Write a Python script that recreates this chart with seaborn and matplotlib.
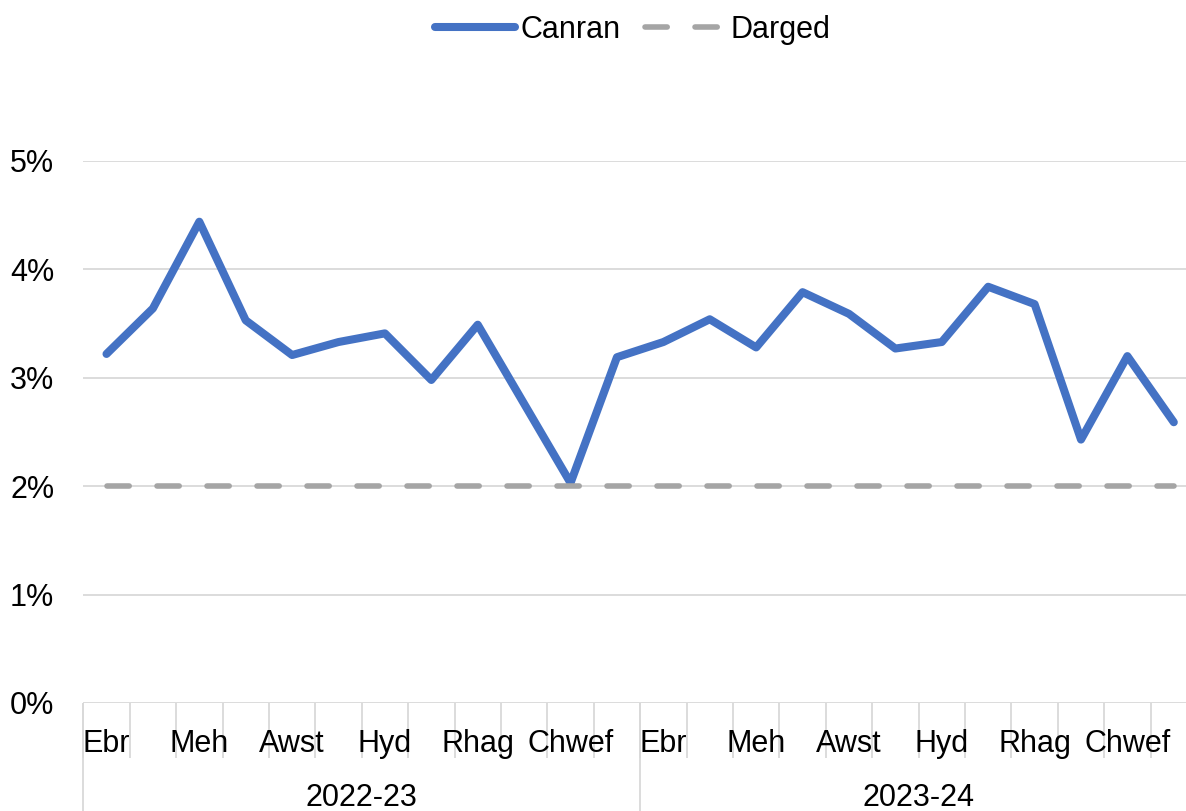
import numpy as np
import pandas as pd
import matplotlib
matplotlib.use("Agg")
import matplotlib.pyplot as plt
import seaborn as sns
from matplotlib.ticker import PercentFormatter
from matplotlib.transforms import blended_transform_factory

# ---- data ----
months = ["Ebr", "Mai", "Meh", "Gorff", "Awst", "Medi",
          "Hyd", "Tach", "Rhag", "Ion", "Chwef", "Maw"]
years = ["2022-23", "2023-24"]
canran = [3.22, 3.64, 4.44, 3.53, 3.21, 3.33, 3.41, 2.98, 3.49, 2.76, 2.03, 3.19,
          3.33, 3.54, 3.28, 3.79, 3.59, 3.27, 3.33, 3.84, 3.68, 2.43, 3.20, 2.59]
darged = [2.0, 2.0, 2.0, 2.0, 2.0, 2.0, 2.0, 2.0, 2.0, 2.0, 2.0, 2.0,
          2.0, 2.0, 2.0, 2.0, 2.0, 2.0, 2.0, 2.0, 2.0, 2.0, 2.0, 2.0]
yticks = [0, 1, 2, 3, 4, 5]

BLUE = "#4472C4"
GREY = "#A5A5A5"
GRID = "#D9D9D9"
FS = 22

sns.set_style("white")
plt.rcParams["font.family"] = ["Liberation Sans", "DejaVu Sans"]
plt.rcParams["text.color"] = "black"

n = len(canran)
df = pd.DataFrame({
    "idx": np.arange(n),
    "month": [m for _ in years for m in months],
    "year": [y for y in years for _ in months],
    "Canran": canran,
    "Darged": darged,
})

fig = plt.figure(figsize=(11.86, 8.11), dpi=100)
W, H = 1186, 811
ax_left, ax_right, ax_top, ax_bottom = 83.3, 1197.0, 161.0, 703.0
ax = fig.add_axes([ax_left / W, 1 - ax_bottom / H,
                   (ax_right - ax_left) / W, (ax_bottom - ax_top) / H])

sns.lineplot(data=df, x="idx", y="Canran", ax=ax, color=BLUE, linewidth=5.8,
             label="Canran", solid_capstyle="round", solid_joinstyle="round")
sns.lineplot(data=df, x="idx", y="Darged", ax=ax, color=GREY, linewidth=4.0,
             label="Darged", linestyle=(0, (4.0, 5.0)), dash_capstyle="round")

ax.set_xlim(-0.5, n - 0.5)
ax.set_ylim(0, 5)
ax.set_yticks(yticks)
ax.yaxis.set_major_formatter(PercentFormatter(xmax=100, decimals=0))
ax.tick_params(axis="y", length=0, pad=21, labelsize=FS, labelcolor="black")
ax.yaxis.grid(True, color=GRID, linewidth=1.3)
ax.set_axisbelow(True)
for s in ax.spines.values():
    s.set_visible(False)
ax.set_xticks([])
ax.set_xlabel("")
ax.set_ylabel("")

# multi-level category axis
trans = blended_transform_factory(ax.transData, ax.transAxes)
ah = ax_bottom - ax_top
bounds = np.arange(-0.5, n, 1.0)
ax.vlines(bounds, -55.0 / ah, 0, transform=trans, colors=GRID, linewidth=1.3,
          clip_on=False)
ax.vlines([-0.5, len(months) - 0.5, n - 0.5], -(H - ax_bottom) / ah, 0,
          transform=trans, colors=GRID, linewidth=1.3, clip_on=False)
for i, row in df.iterrows():
    if i % 2 == 0:
        ax.text(row["idx"], -(752 - ax_bottom) / ah, row["month"], transform=trans,
                ha="center", va="baseline", fontsize=FS, color="black")
for k, y in enumerate(years):
    xc = k * len(months) + (len(months) - 1) / 2
    ax.text(xc, -(806 - ax_bottom) / ah, y, transform=trans,
            ha="center", va="baseline", fontsize=FS, color="black")

leg = ax.legend(loc="center", bbox_to_anchor=(633 / W, 1 - 30 / H),
                bbox_transform=fig.transFigure, ncol=2, frameon=False,
                fontsize=FS, handlelength=2.6, handletextpad=0.2,
                columnspacing=0.8, labelcolor="black")

fig.savefig("out.png", dpi=100)
